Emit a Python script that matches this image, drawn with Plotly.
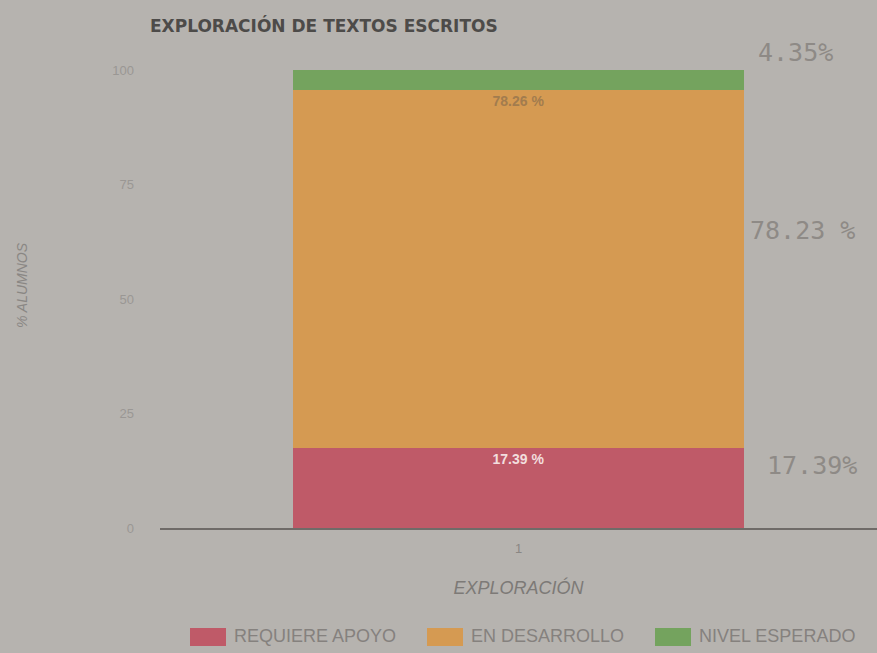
import plotly.graph_objects as go

# Data
categories = ["1"]
series_names = ["REQUIERE APOYO", "EN DESARROLLO", "NIVEL ESPERADO"]
requiere_apoyo = [17.39]
en_desarrollo = [78.26]
nivel_esperado = [4.35]
series_colors = ["#bf5a68", "#d59a52", "#74a35e"]
text_colors = ["#f2dede", "#a27c4e", "#e8f0e0"]
y_ticks = [0, 25, 50, 75, 100]

# Handwritten notes beside the bar
note_texts = ["4.35%", "78.23 %", "17.39%"]

W, H = 877, 653
L, R, T, B = 160, 0, 70, 125
PW, PH = W - L - R, H - T - B


def px(x):
    return (x - L) / PW


def py(y):
    return (H - B - y) / PH


bg = "#b6b3af"
font = "Liberation Sans, Arial, sans-serif"
fig = go.Figure()

for name, vals, col, tcol in zip(series_names,
                                 [requiere_apoyo, en_desarrollo, nivel_esperado],
                                 series_colors, text_colors):
    fig.add_trace(go.Bar(
        x=categories, y=vals, name=name,
        marker=dict(color=col, line=dict(width=0)),
        text=[f"<b>{v:.2f} %</b>" for v in vals],
        textposition="inside" if name != "NIVEL ESPERADO" else "none",
        insidetextanchor="end",
        textangle=0,
        textfont=dict(family=font, size=14, color=tcol),
        showlegend=False,
    ))

annotations = [
    dict(text="<i>% ALUMNOS</i>", textangle=-90, xref="paper", yref="paper",
         x=px(22), y=py(285), showarrow=False,
         font=dict(family=font, size=14, color="#8a8784"),
         xanchor="center", yanchor="middle"),
]

# Handwritten notes
for t, xx, yy in zip(note_texts, [795, 802, 812], [52, 230, 465]):
    annotations.append(dict(text=t, xref="paper", yref="paper", x=px(xx), y=py(yy),
                            xanchor="center", yanchor="middle", showarrow=False,
                            font=dict(family="DejaVu Sans Mono", size=25, color="#8e8a86")))

# Legend: wide colour swatches with labels
shapes = []
swatch_x = [190, 427, 655]
for name, col, sx in zip(series_names, series_colors, swatch_x):
    shapes.append(dict(type="rect", xref="paper", yref="paper",
                       x0=px(sx), x1=px(sx + 36), y0=py(646), y1=py(628),
                       fillcolor=col, line=dict(width=0)))
    annotations.append(dict(text=name, xref="paper", yref="paper",
                            x=px(sx + 42), y=py(636), xanchor="left", yanchor="middle",
                            showarrow=False,
                            font=dict(family=font, size=18, color="#85817e")))

fig.update_layout(
    width=W, height=H,
    margin=dict(l=L, r=R, t=T, b=B),
    paper_bgcolor=bg, plot_bgcolor=bg,
    barmode="stack", bargap=0.37,
    title=dict(text="<b>EXPLORACIÓN DE TEXTOS ESCRITOS</b>", x=150 / W, xanchor="left",
               y=1 - 26 / H, yanchor="middle",
               font=dict(family="DejaVu Sans, sans-serif", size=17, color="#4d4b49")),
    xaxis=dict(showgrid=False, showline=True, linecolor="#6f6b68", linewidth=1.5,
               tickfont=dict(family=font, size=13, color="#8a8784"),
               ticks="", zeroline=False, ticklabelstandoff=8,
               title=dict(text="<i>EXPLORACIÓN</i>", standoff=26,
                          font=dict(family=font, size=18, color="#7d7a77"))),
    yaxis=dict(range=[0, 100], tickvals=y_ticks, showgrid=False, zeroline=False,
               showline=False, ticks="", ticklabelstandoff=25,
               tickfont=dict(family=font, size=13, color="#9a9794")),
    showlegend=False,
    annotations=annotations,
    shapes=shapes,
)

fig.write_html("out.html")
